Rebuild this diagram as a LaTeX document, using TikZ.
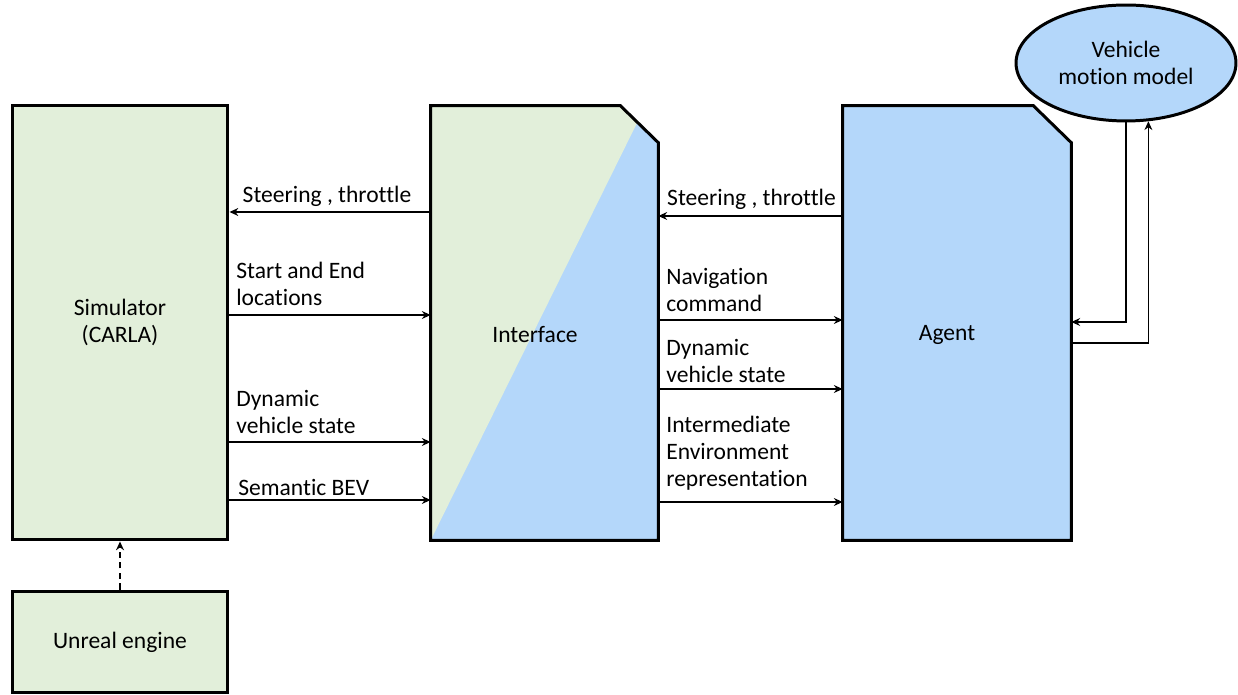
\documentclass[tikz,border=0pt]{standalone}
\usepackage{fontspec}
\setmainfont{Carlito}[Ligatures=NoCommon]
\usetikzlibrary{arrows.meta,shapes.geometric}
\definecolor{lgreen}{RGB}{226,239,218}
\definecolor{lblue}{RGB}{180,215,250}
\begin{document}
\begin{tikzpicture}[x=0.02cm,y=-0.02cm,
  every node/.style={font=\fontsize{13.4}{15.6}\selectfont},
  edge/.style={line width=1.7pt, line join=miter},
  blk/.style={edge, draw, inner sep=0, align=center},
  hold/.style={inner sep=0},
  arr/.style={line width=0.8pt,-{Stealth[length=5pt,width=4.5pt]}},
  lbl/.style={anchor=base west, align=left, inner sep=0}]
\useasboundingbox (0,0) rectangle (1238,695);

% Simulator and Unreal engine
\node[blk, fill=lgreen, minimum width=4.32cm, minimum height=8.7cm] (sim) at (120,322.5) {Simulator\\(CARLA)};
\node[blk, fill=lgreen, minimum width=4.32cm, minimum height=2.04cm] (ue) at (120,642) {Unreal engine};

% Interface
\node[hold, minimum width=4.54cm, minimum height=8.68cm] (iface) at (544.5,323) {};
\fill[lblue] (iface.north west) -- ([xshift=-0.76cm]iface.north east) -- ([yshift=-0.74cm]iface.north east) -- (iface.south east) -- (iface.south west) -- cycle;
\fill[lgreen] (iface.north west) -- ([xshift=-0.76cm]iface.north east) -- (637,123) -- (iface.south west) -- cycle;
\draw[edge] (iface.north west) -- ([xshift=-0.76cm]iface.north east) -- ([yshift=-0.74cm]iface.north east) -- (iface.south east) -- (iface.south west) -- cycle;
\node[hold] (ifacetxt) at (535,335) {Interface};

% Agent
\node[hold, minimum width=4.56cm, minimum height=8.68cm] (agent) at (957,323) {};
\draw[edge, fill=lblue] (agent.north west) -- ([xshift=-0.76cm]agent.north east) -- ([yshift=-0.74cm]agent.north east) -- (agent.south east) -- (agent.south west) -- cycle;
\node[hold] (agenttxt) at (947,335) {Agent};

% Vehicle motion model
\node[blk, ellipse, fill=lblue, minimum width=4.4cm, minimum height=2.32cm] (vm) at (1126,63) {Vehicle\\motion model};

% Simulator <-> Interface
\draw[arr] (iface.west |- 0,212) -- (sim.east |- 0,212);
\draw[arr] (sim.east |- 0,315) -- (iface.west |- 0,315);
\draw[arr] (sim.east |- 0,442) -- (iface.west |- 0,442);
\draw[arr] (sim.east |- 0,500) -- (iface.west |- 0,500);
\node[inner sep=0, anchor=base] (l1) at (327,203) {Steering , throttle};
\node[lbl] (l2) at (236,306) {Start and End\\locations};
\node[lbl] (l3) at (236,434) {Dynamic\\vehicle state};
\node[lbl] (l4) at (238,496) {Semantic BEV};

% Interface <-> Agent
\draw[arr] (agent.west |- 0,216) -- (iface.east |- 0,216);
\draw[arr] (iface.east |- 0,320) -- (agent.west |- 0,320);
\draw[arr] (iface.east |- 0,389) -- (agent.west |- 0,389);
\draw[arr] (iface.east |- 0,502) -- (agent.west |- 0,502);
\node[inner sep=0, anchor=base] (r1) at (751.5,206) {Steering , throttle};
\node[lbl] (r2) at (666,312) {Navigation\\command};
\node[lbl] (r3) at (666,383) {Dynamic\\vehicle state};
\node[lbl] (r4) at (666,487) {Intermediate\\Environment\\representation};

% Engine -> Simulator
\draw[arr, dash pattern=on 3.5pt off 2.5pt] (ue.north) -- (sim.south);

% Agent <-> motion model
\draw[arr] (vm.south) |- (agent.east |- 0,322);
\draw[arr] (agent.east |- 0,343) -| (vm.-69);
\end{tikzpicture}
\end{document}
